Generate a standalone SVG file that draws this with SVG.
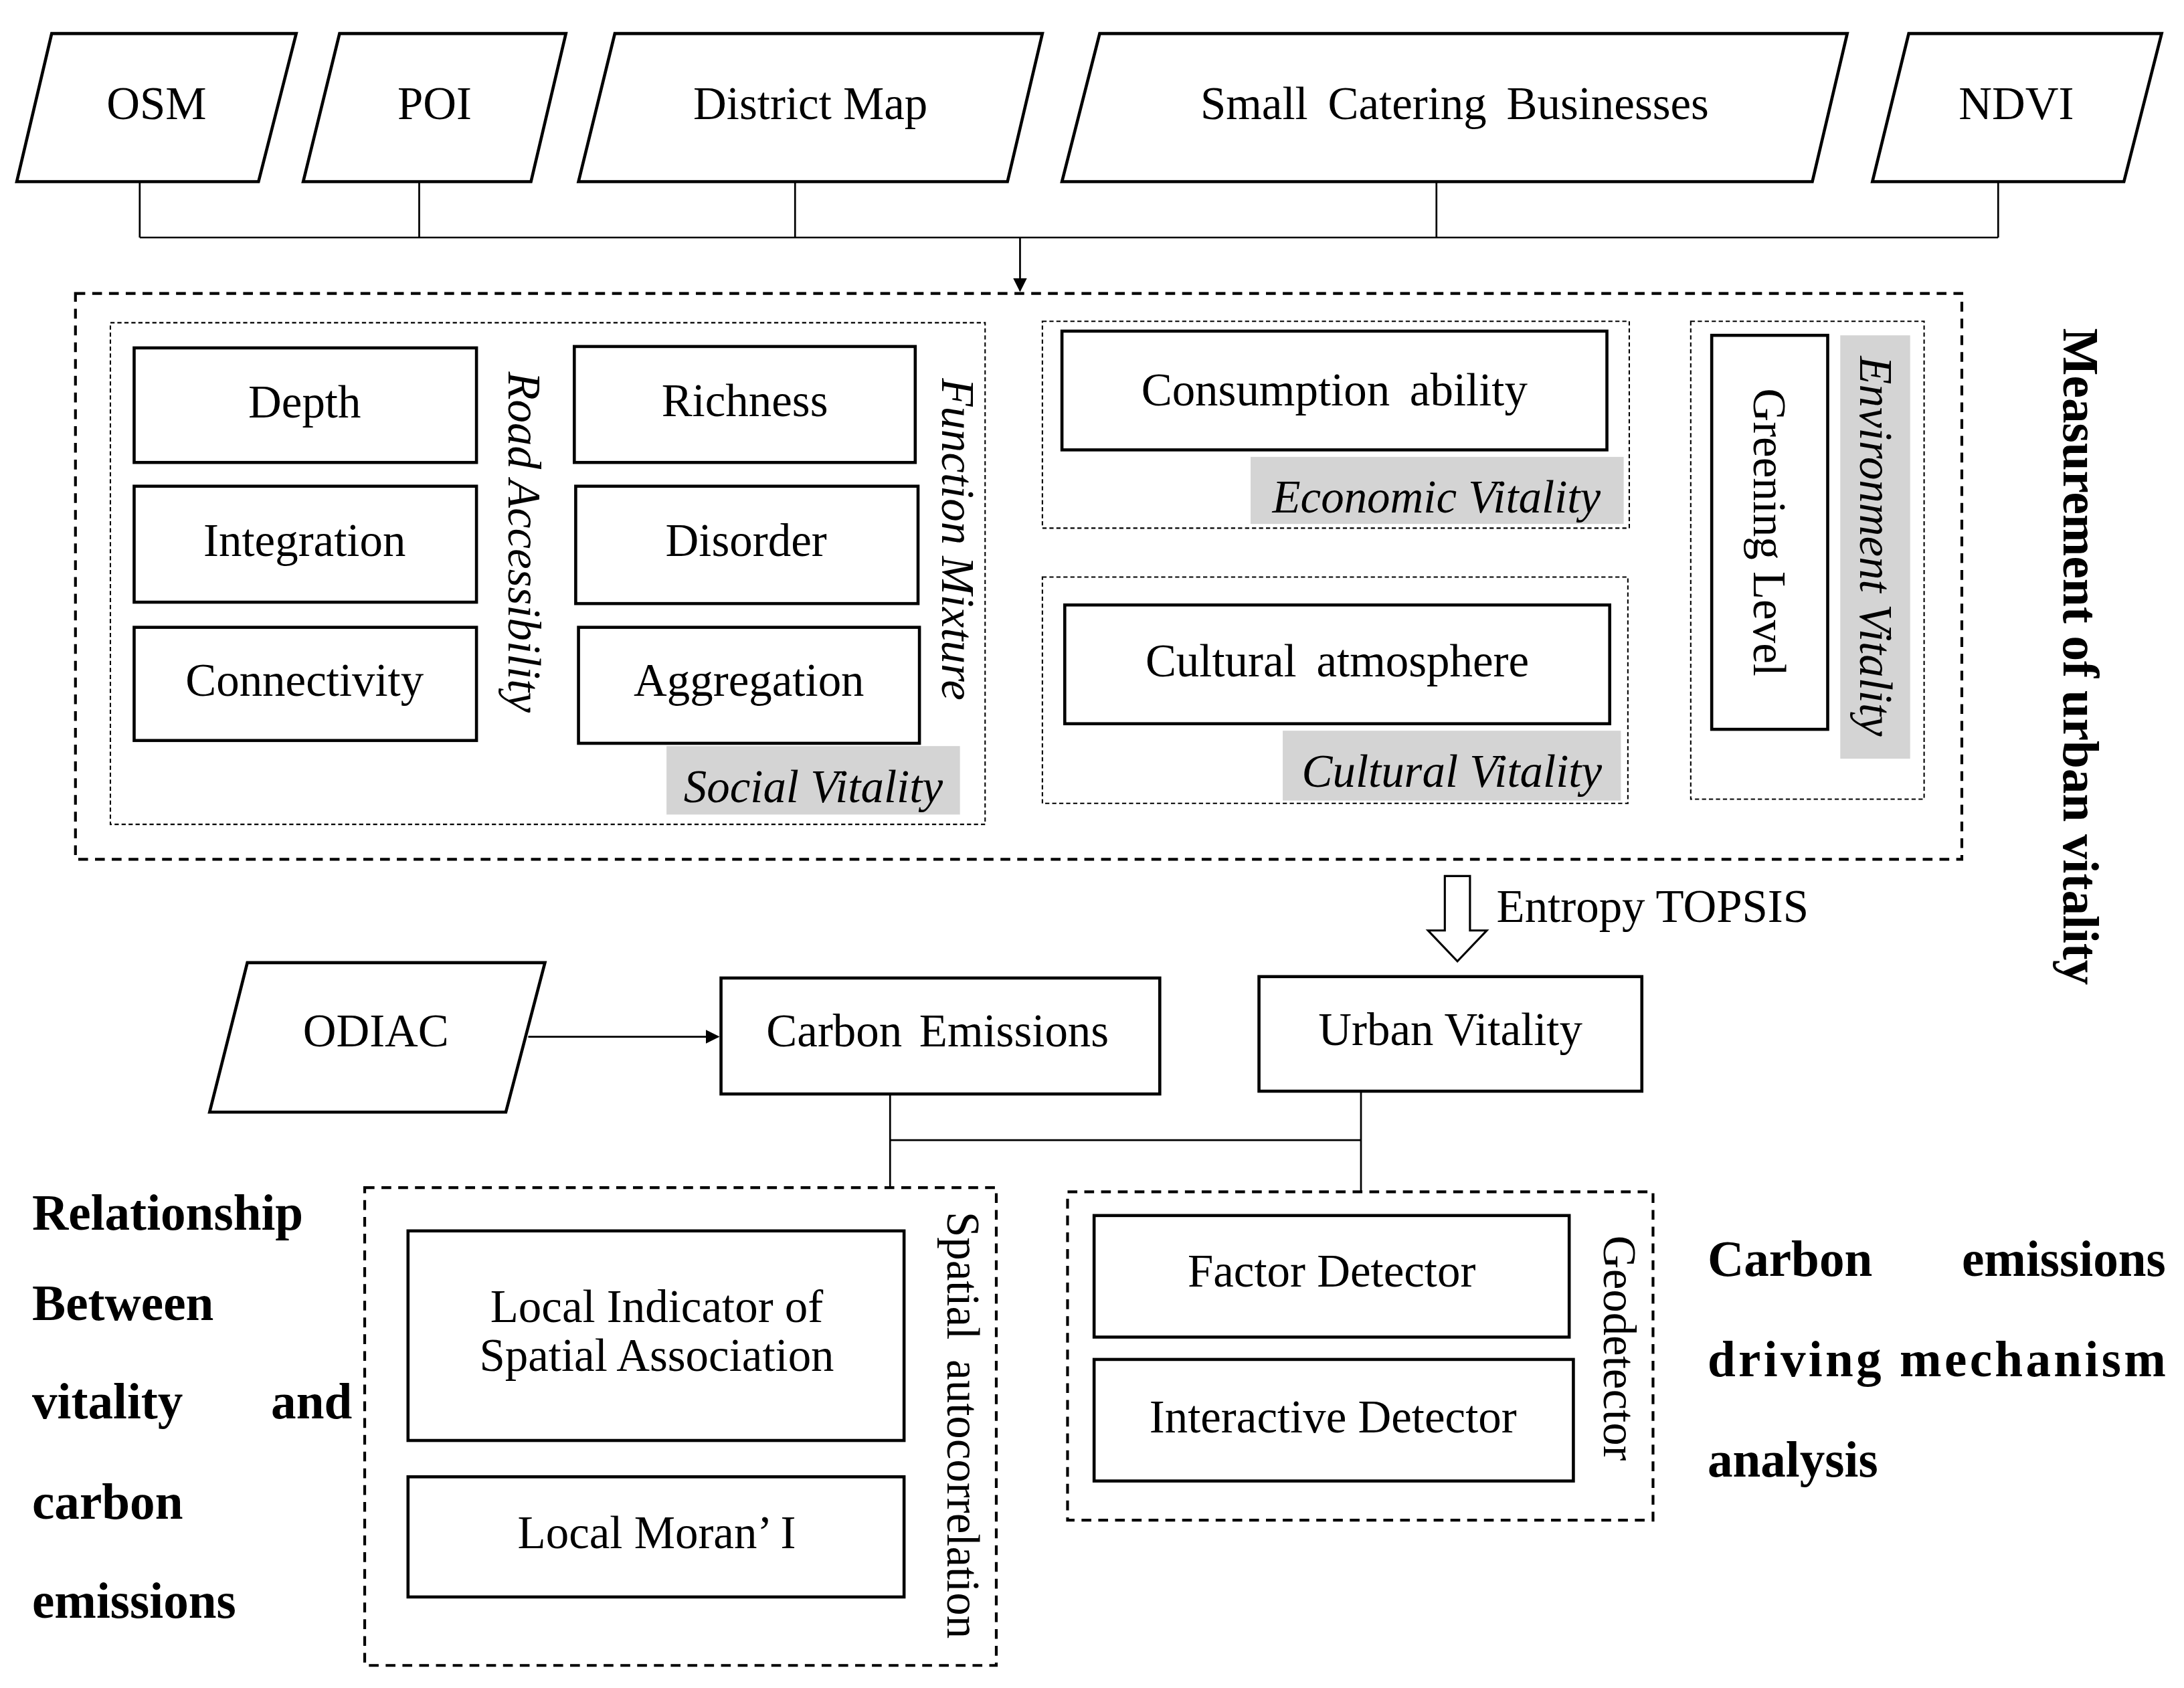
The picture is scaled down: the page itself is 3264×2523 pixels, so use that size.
<svg xmlns="http://www.w3.org/2000/svg" width="3264" height="2523" viewBox="0 0 3264 2523">
<defs>
<style>
.n{fill:#fff;stroke:#000;stroke-width:2.2}
.t{font-family:"Liberation Serif",serif;font-size:33px;fill:#000;text-anchor:middle}
.i{font-style:italic}
.b{font-weight:bold;font-size:36px;text-anchor:start}
.d1{fill:none;stroke:#000;stroke-width:2;stroke-dasharray:7 5}
.d2{fill:none;stroke:#000;stroke-width:1;stroke-dasharray:3 2}
.g{fill:#d4d4d4}
.c{fill:none;stroke:#000;stroke-width:1.3}
</style>
<marker id="a" markerWidth="10" markerHeight="10" refX="9" refY="5" orient="auto" markerUnits="userSpaceOnUse"><path d="M0,0L10,5L0,10z" fill="#000"/></marker>
</defs>
<rect width="3264" height="2523" fill="#fff"/>
<g transform="scale(2.0883)">
<g id="connectors">
<path class="c" d="M100,130V170M300,130V170M569,130V170M1028,130V170M1430,130V170M100,170H1430"/>
<path class="c" d="M730,170V208" marker-end="url(#a)"/>
<path class="c" d="M378,742H514" marker-end="url(#a)"/>
<path class="c" d="M637,783V850M974,781V853M637,816H974"/>
<path d="M1034,627H1052V666H1064L1043,688L1022,666H1034Z" fill="#fff" stroke="#000" stroke-width="1.5"/>
<text class="t" x="1071" y="660" style="text-anchor:start">Entropy TOPSIS</text>
</g>
<g id="osm"><path class="n" d="M37,24H212L185,130H12Z"/><text class="t" x="112" y="85">OSM</text></g>
<g id="poi"><path class="n" d="M243,24H405L380,130H217Z"/><text class="t" x="311" y="85">POI</text></g>
<g id="district"><path class="n" d="M440,24H746L721,130H414Z"/><text class="t" x="580" y="85">District Map</text></g>
<g id="catering"><path class="n" d="M787,24H1322L1297,130H760Z"/><text class="t" x="1041" y="85" word-spacing="6">Small Catering Businesses</text></g>
<g id="ndvi"><path class="n" d="M1366,24H1547L1520,130H1340Z"/><text class="t" x="1443" y="85">NDVI</text></g>
<g id="measurement">
<rect class="d1" x="54" y="210" width="1350" height="405"/>
<text class="t b" transform="translate(1477,470) rotate(90)" style="text-anchor:middle">Measurement of urban vitality</text>
</g>
<g id="social">
<rect class="d2" x="79" y="231" width="626" height="359"/>
<rect class="n" x="96" y="249" width="245" height="82"/><text class="t" x="218" y="299">Depth</text>
<rect class="n" x="96" y="348" width="245" height="83"/><text class="t" x="218" y="398">Integration</text>
<rect class="n" x="96" y="449" width="245" height="81"/><text class="t" x="218" y="498">Connectivity</text>
<rect class="n" x="411" y="248" width="244" height="83"/><text class="t" x="533" y="298">Richness</text>
<rect class="n" x="412" y="348" width="245" height="84"/><text class="t" x="534" y="398">Disorder</text>
<rect class="n" x="414" y="449" width="244" height="83"/><text class="t" x="536" y="498">Aggregation</text>
<text class="t i" transform="translate(364,388) rotate(90)">Road Accessibility</text>
<text class="t i" transform="translate(674,386) rotate(90)">Function Mixture</text>
<rect class="g" x="477" y="534" width="210" height="49"/><text class="t i" x="582" y="574">Social Vitality</text>
</g>
<g id="economic">
<rect class="d2" x="746" y="230" width="420" height="148"/>
<rect class="n" x="760" y="237" width="390" height="85"/><text class="t" x="955" y="290" word-spacing="6">Consumption ability</text>
<rect class="g" x="895" y="327" width="267" height="48"/><text class="t i" x="1028" y="367">Economic Vitality</text>
</g>
<g id="cultural">
<rect class="d2" x="746" y="413" width="419" height="162"/>
<rect class="n" x="762" y="433" width="390" height="85"/><text class="t" x="957" y="484" word-spacing="6">Cultural atmosphere</text>
<rect class="g" x="918" y="523" width="242" height="50"/><text class="t i" x="1039" y="563">Cultural Vitality</text>
</g>
<g id="environment">
<rect class="d2" x="1210" y="230" width="167" height="342"/>
<rect class="n" x="1225" y="240" width="83" height="282"/><text class="t" transform="translate(1255,381) rotate(90)">Greening Level</text>
<rect class="g" x="1317" y="240" width="50" height="303"/><text class="t i" transform="translate(1331,391) rotate(90)">Environment Vitality</text>
</g>
<g id="odiac"><path class="n" d="M177,689H390L362,796H150Z"/><text class="t" x="269" y="749">ODIAC</text></g>
<g id="carbon"><rect class="n" x="516" y="700" width="314" height="83"/><text class="t" x="671" y="749" word-spacing="4">Carbon Emissions</text></g>
<g id="urban"><rect class="n" x="901" y="699" width="274" height="82"/><text class="t" x="1038" y="748">Urban Vitality</text></g>
<g id="spatial">
<rect class="d1" x="261" y="850" width="452" height="342"/>
<rect class="n" x="292" y="881" width="355" height="150"/><text class="t" x="470" y="946">Local Indicator of</text><text class="t" x="470" y="981">Spatial Association</text>
<rect class="n" x="292" y="1057" width="355" height="86"/><text class="t" x="470" y="1108">Local Moran’ I</text>
<text class="t" transform="translate(678,1020) rotate(90)" word-spacing="6">Spatial autocorrelation</text>
</g>
<g id="geodetector">
<rect class="d1" x="764" y="853" width="419" height="235"/>
<rect class="n" x="783" y="870" width="340" height="87"/><text class="t" x="953" y="921">Factor Detector</text>
<rect class="n" x="783" y="973" width="343" height="87"/><text class="t" x="954" y="1025">Interactive Detector</text>
<text class="t" transform="translate(1148,965) rotate(90)">Geodetector</text>
</g>
<g id="left-label">
<text class="t b" x="23" y="880">Relationship</text>
<text class="t b" x="23" y="945">Between</text>
<text class="t b" x="23" y="1015">vitality</text><text class="t b" x="252" y="1015" style="text-anchor:end">and</text>
<text class="t b" x="23" y="1087">carbon</text>
<text class="t b" x="23" y="1158">emissions</text>
</g>
<g id="right-label">
<text class="t b" x="1222" y="913">Carbon</text><text class="t b" x="1550" y="913" style="text-anchor:end">emissions</text>
<text class="t b" x="1222" y="985" textLength="328">driving mechanism</text>
<text class="t b" x="1222" y="1057">analysis</text>
</g>
</g>
</svg>
